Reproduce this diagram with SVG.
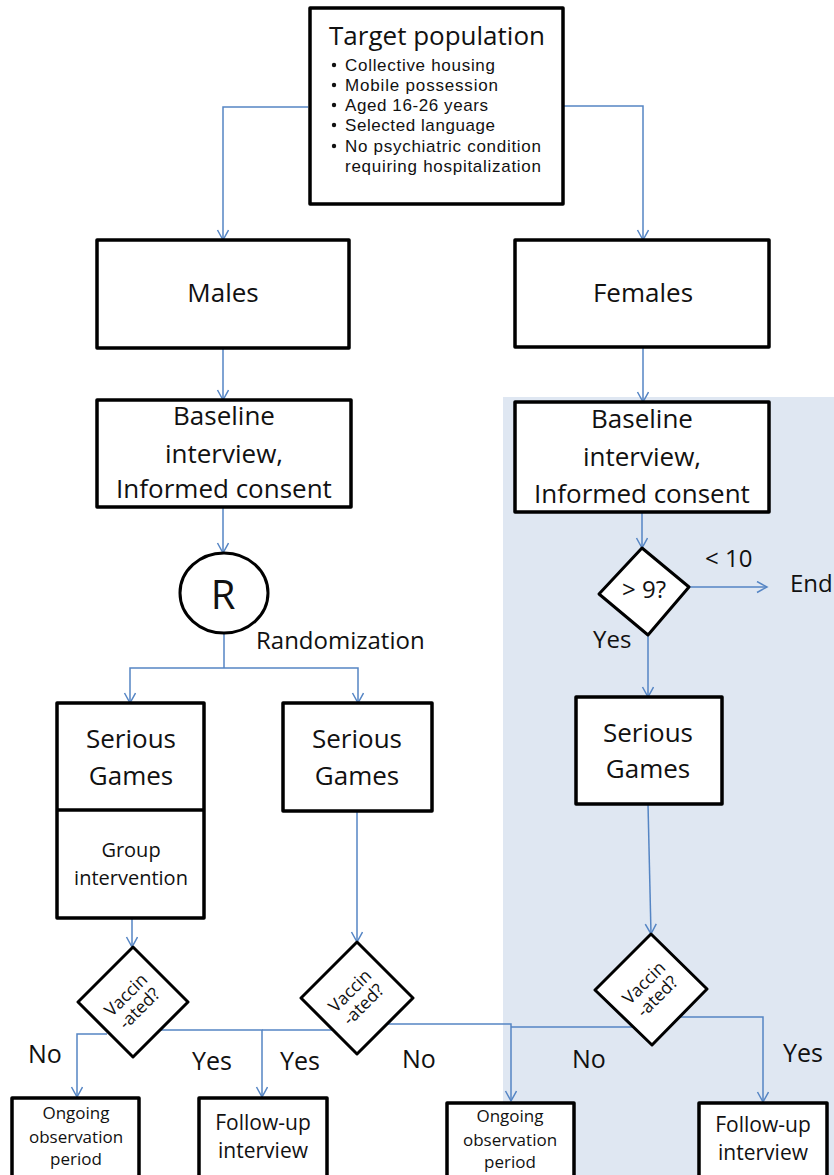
<svg xmlns="http://www.w3.org/2000/svg" width="834" height="1175" viewBox="0 0 834 1175">
<style>
.box{fill:#fff;stroke:#000;stroke-width:3.5;stroke-linejoin:round}
.t{font-family:"Open Sans","Liberation Sans",sans-serif;fill:#111;text-anchor:middle}
.l{font-family:"Open Sans","Liberation Sans",sans-serif;fill:#111}
.b{font-family:"Liberation Sans",Arial,sans-serif;fill:#111}
.c{fill:none;stroke:#5585c4;stroke-width:1.5}
.a{marker-end:url(#arr)}
</style>
<defs>
<marker id="arr" markerUnits="userSpaceOnUse" markerWidth="14" markerHeight="14" refX="11" refY="6" orient="auto">
<path d="M1,0.5 L11,6 L1,11.5" fill="none" stroke="#5585c4" stroke-width="1.5"/>
</marker>
</defs>
<rect x="503" y="397" width="331" height="778" fill="#dfe7f2"/>
<g id="connectors">
<path class="c a" d="M308,107 H223 V240"/>
<path class="c a" d="M563,106 H643 V240"/>
<path class="c a" d="M223,348 V400"/>
<path class="c a" d="M643,347 V402"/>
<path class="c a" d="M223,507 V553"/>
<path class="c" d="M224,633 V668"/>
<path class="c a" d="M224,668 H130 V703"/>
<path class="c a" d="M224,668 H358 V703"/>
<path class="c a" d="M642,512 V548"/>
<path class="c a" d="M689,587 H767"/>
<path class="c a" d="M648,635 V697"/>
<path class="c a" d="M132,918 V947"/>
<path class="c a" d="M357,811 V942"/>
<path class="c a" d="M648,804 L651,934"/>
<path class="c a" d="M107,1034 H77 V1097"/>
<path class="c a" d="M160,1030 H262 V1097"/>
<path class="c" d="M333,1030 H262"/>
<path class="c a" d="M387,1024 H511 V1101"/>
<path class="c" d="M632,1027 H511"/>
<path class="c a" d="M679,1017 H763 V1102"/>
</g>
<g id="target">
<rect class="box" x="310" y="8" width="253" height="196"/>
<text class="t" x="437" y="45" font-size="26">Target population</text>
<g class="b" font-size="17">
<text x="345" y="71" textLength="150">Collective housing</text>
<text x="345" y="91" textLength="153">Mobile possession</text>
<text x="345" y="111" textLength="143">Aged 16-26 years</text>
<text x="345" y="131" textLength="150">Selected language</text>
<text x="345" y="152" textLength="196">No psychiatric condition</text>
<text x="345" y="172" textLength="196">requiring hospitalization</text>
</g>
<g fill="#111">
<circle cx="334" cy="65" r="2.2"/>
<circle cx="334" cy="85" r="2.2"/>
<circle cx="334" cy="105" r="2.2"/>
<circle cx="334" cy="125" r="2.2"/>
<circle cx="334" cy="146" r="2.2"/>
</g>
</g>
<g id="males">
<rect class="box" x="97" y="240" width="252" height="108"/>
<text class="t" x="223" y="302" font-size="26">Males</text>
</g>
<g id="females">
<rect class="box" x="515" y="240" width="254" height="107"/>
<text class="t" x="643" y="302" font-size="26">Females</text>
</g>
<g id="baseline-left">
<rect class="box" x="97" y="400" width="254" height="107"/>
<text class="t" x="224" y="425" font-size="26">Baseline</text>
<text class="t" x="224" y="463" font-size="26">interview,</text>
<text class="t" x="224" y="498" font-size="26">Informed consent</text>
</g>
<g id="baseline-right">
<rect class="box" x="515" y="402" width="254" height="110"/>
<text class="t" x="642" y="428" font-size="26">Baseline</text>
<text class="t" x="642" y="466" font-size="26">interview,</text>
<text class="t" x="642" y="503" font-size="26">Informed consent</text>
</g>
<g id="randomization">
<ellipse cx="224" cy="593" rx="44" ry="40" fill="#fff" stroke="#000" stroke-width="3"/>
<text class="t" x="223" y="609" font-size="40">R</text>
<text class="l" x="256" y="649" font-size="24">Randomization</text>
</g>
<g id="decision-9">
<polygon points="642,548 689,587 648,635 599,594" fill="#fff" stroke="#000" stroke-width="3" stroke-linejoin="round"/>
<text class="t" x="644" y="598" font-size="24">&gt; 9?</text>
<text class="l" x="705" y="567" font-size="24">&lt; 10</text>
<text class="l" x="790" y="592" font-size="24">End</text>
<text class="l" x="593" y="648" font-size="24">Yes</text>
</g>
<g id="sg-left">
<rect class="box" x="57" y="703" width="147" height="215"/>
<line x1="57" y1="810" x2="204" y2="810" stroke="#000" stroke-width="3.5"/>
<text class="t" x="131" y="748" font-size="26">Serious</text>
<text class="t" x="131" y="785" font-size="26">Games</text>
<text class="t" x="131" y="857" font-size="20">Group</text>
<text class="t" x="131" y="885" font-size="20">intervention</text>
</g>
<g id="sg-middle">
<rect class="box" x="283" y="703" width="149" height="108"/>
<text class="t" x="357" y="748" font-size="26">Serious</text>
<text class="t" x="357" y="785" font-size="26">Games</text>
</g>
<g id="sg-right">
<rect class="box" x="576" y="697" width="146" height="107"/>
<text class="t" x="648" y="742" font-size="26">Serious</text>
<text class="t" x="648" y="778" font-size="26">Games</text>
</g>
<g id="vacc-left">
<polygon points="133,947 188,1002 133,1057 78,1002" fill="#fff" stroke="#000" stroke-width="3" stroke-linejoin="round"/>
<g transform="rotate(-45 133 1002)"><text class="t" x="133" y="998" font-size="17.5">Vaccin</text><text class="t" x="133" y="1017" font-size="17.5">-ated?</text></g>
</g>
<g id="vacc-middle">
<polygon points="357,942 413,998 357,1054 301,998" fill="#fff" stroke="#000" stroke-width="3" stroke-linejoin="round"/>
<g transform="rotate(-45 357 998)"><text class="t" x="357" y="994" font-size="17.5">Vaccin</text><text class="t" x="357" y="1013" font-size="17.5">-ated?</text></g>
</g>
<g id="vacc-right">
<polygon points="651,934 707,989 652,1045 595,990" fill="#fff" stroke="#000" stroke-width="3" stroke-linejoin="round"/>
<g transform="rotate(-45 651 990)"><text class="t" x="651" y="986" font-size="17.5">Vaccin</text><text class="t" x="651" y="1005" font-size="17.5">-ated?</text></g>
</g>
<g id="labels" class="l" font-size="25">
<text x="28" y="1063">No</text>
<text x="192" y="1070">Yes</text>
<text x="280" y="1070">Yes</text>
<text x="402" y="1068">No</text>
<text x="572" y="1068">No</text>
<text x="783" y="1062">Yes</text>
</g>
<g id="ongoing-left">
<rect class="box" x="12" y="1098" width="127" height="90"/>
<text class="t" x="76" y="1119" font-size="17">Ongoing</text>
<text class="t" x="76" y="1143" font-size="17">observation</text>
<text class="t" x="76" y="1165" font-size="17">period</text>
</g>
<g id="followup-left">
<rect class="box" x="199" y="1098" width="128" height="90"/>
<text class="t" x="263" y="1130" font-size="21">Follow-up</text>
<text class="t" x="263" y="1158" font-size="21">interview</text>
</g>
<g id="ongoing-middle">
<rect class="box" x="447" y="1103" width="127" height="90"/>
<text class="t" x="510" y="1122" font-size="17">Ongoing</text>
<text class="t" x="510" y="1146" font-size="17">observation</text>
<text class="t" x="510" y="1168" font-size="17">period</text>
</g>
<g id="followup-right">
<rect class="box" x="699" y="1103" width="128" height="90"/>
<text class="t" x="763" y="1132" font-size="21">Follow-up</text>
<text class="t" x="763" y="1160" font-size="21">interview</text>
</g>
</svg>
